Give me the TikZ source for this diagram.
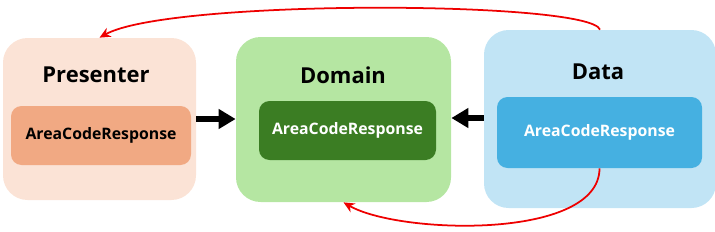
\documentclass[tikz,border=0pt]{standalone}
\usepackage{fontspec}
\setmainfont{Open Sans}
\usetikzlibrary{arrows.meta, positioning}
\definecolor{cpresout}{HTML}{FBE3D6}
\definecolor{cpresin}{HTML}{F1A983}
\definecolor{cdomout}{HTML}{B5E6A2}
\definecolor{cdomin}{HTML}{3B7D23}
\definecolor{cdatout}{HTML}{C1E4F5}
\definecolor{cdatin}{HTML}{45B0E1}
\definecolor{cred}{HTML}{EE0000}
\tikzset{
  every picture/.style={font=\bfseries},
  layer/.style={fill=#1, rounded corners=14pt, inner sep=0pt},
  inbox/.style={fill=#1, rounded corners=6pt, inner sep=0pt, font=\bfseries\fontsize{9}{11}\selectfont},
  title/.style={font=\bfseries\fontsize{12.5}{15}\selectfont},
  dep/.style={-{Triangle[length=3.4mm, width=3.8mm]}, line width=3.2pt, draw=black},
  flow/.style={-{Stealth[length=2.2mm, width=2mm]}, draw=cred, line width=1pt},
}
\begin{document}
\begin{tikzpicture}[x=0.02cm, y=-0.02cm]
  \useasboundingbox (0,0) rectangle (715,231);
  % layers
  \node[layer=cpresout, minimum width=193*0.02cm, minimum height=162*0.02cm] (pres) at (99.5,119) {};
  \node[layer=cdomout, minimum width=215*0.02cm, minimum height=165*0.02cm] (dom) at (343.5,119.5) {};
  \node[layer=cdatout, minimum width=232*0.02cm, minimum height=178*0.02cm] (dat) at (600,119) {};
  \node[title] (prest) at (96,75) {Presenter};
  \node[title] (domt) at (343,75) {Domain};
  \node[title] (datt) at (598,72) {Data};
  % models
  \node[inbox=cpresin, minimum width=180*0.02cm, minimum height=59*0.02cm] (presm) at (101,135.5) {AreaCodeResponse};
  \node[inbox=cdomin, text=white, minimum width=177*0.02cm, minimum height=59*0.02cm] (domm) at (347.5,130.5) {AreaCodeResponse};
  \node[inbox=cdatin, text=white, minimum width=205*0.02cm, minimum height=71*0.02cm] (datm) at (599.5,132.5) {AreaCodeResponse};
  % dependencies
  \draw[dep] (pres.east |- 0,119) -- (dom.west |- 0,119);
  \draw[dep] (dat.west |- 0,118) -- (dom.east |- 0,118);
  % mapping
  \draw[flow] (dat.north) .. controls +(-10,-29) and +(70,-39) .. (pres.north);
  \draw[flow] (datm.south) .. controls +(0,72) and +(55,32) .. (dom.south);
\end{tikzpicture}
\end{document}
